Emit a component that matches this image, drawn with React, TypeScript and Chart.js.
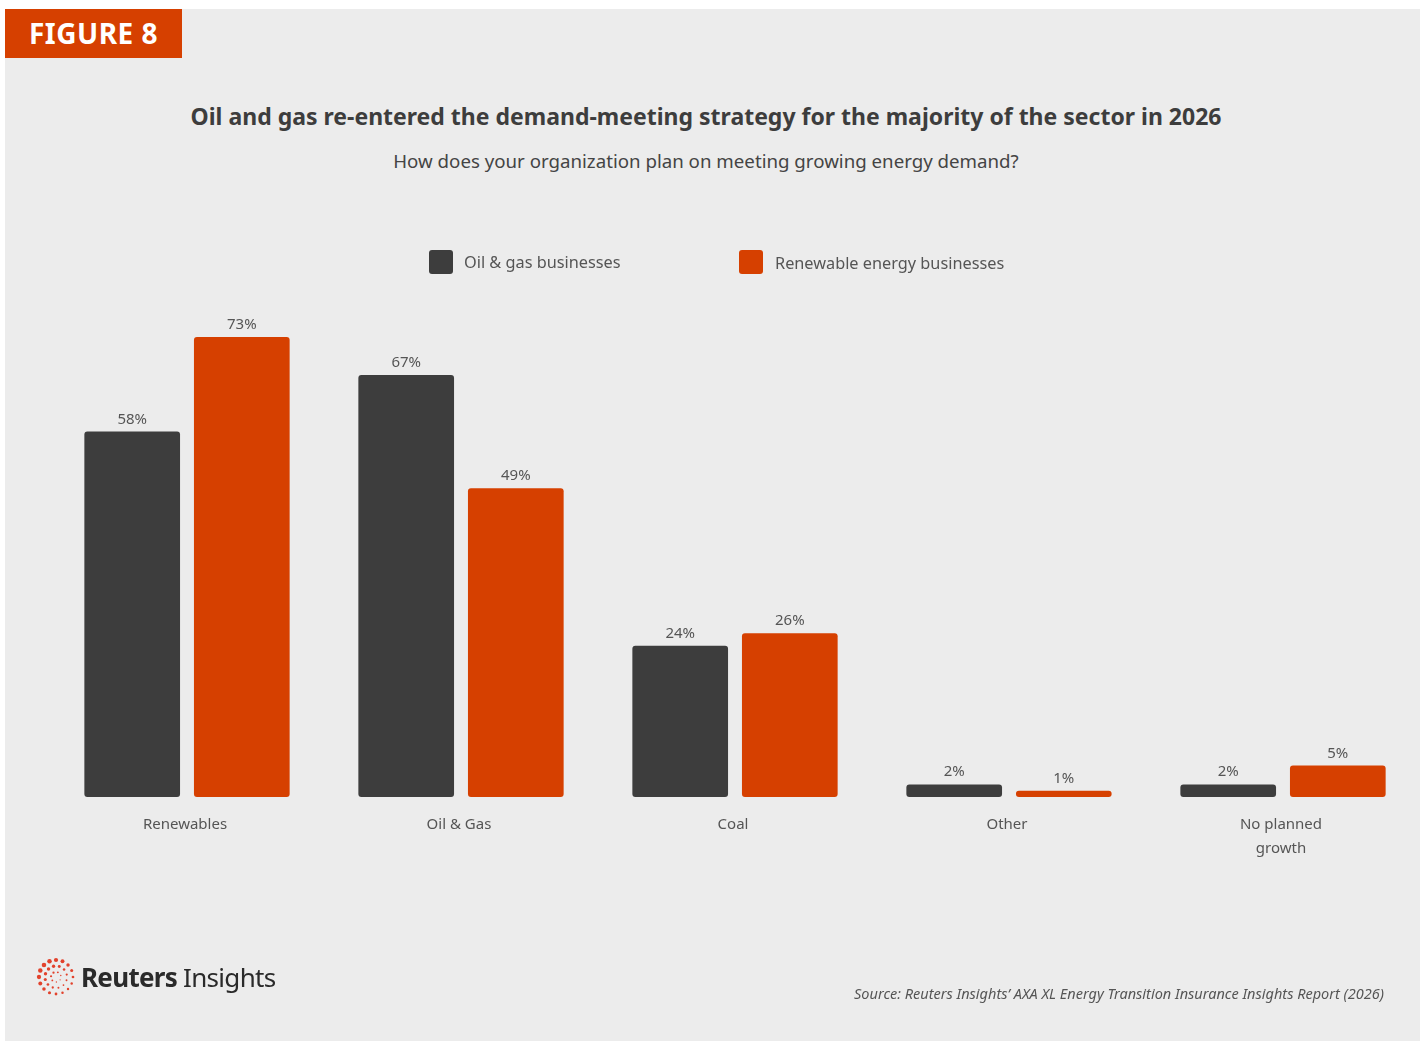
import React, { useEffect, useRef } from "react";
import { Chart, registerables } from "chart.js";

Chart.register(...registerables);

const categories: (string | string[])[] = ["Renewables", "Oil & Gas", "Coal", "Other", ["No planned", "growth"]];
const oilGasValues = [58, 67, 24, 2, 2];
const renewableValues = [73, 49, 26, 1, 5];
const seriesNames = ["Oil & gas businesses", "Renewable energy businesses"];

const DARK = "#3d3d3d";
const ORANGE = "#d64000";
const FONT = "'Noto Sans', 'Open Sans', sans-serif";

const valueLabelPlugin = {
  id: "valueLabels",
  afterDatasetsDraw(chart: any) {
    const ctx = chart.ctx;
    ctx.save();
    ctx.font = `15px ${FONT}`;
    ctx.fillStyle = "#555555";
    ctx.textAlign = "center";
    ctx.textBaseline = "alphabetic";
    chart.data.datasets.forEach((ds: any, di: number) => {
      const meta = chart.getDatasetMeta(di);
      meta.data.forEach((bar: any, i: number) => {
        ctx.fillText(`${ds.data[i]}%`, bar.x, bar.y - 8);
      });
    });
    ctx.restore();
  },
};

function ChartCanvas() {
  const ref = useRef<HTMLCanvasElement | null>(null);
  useEffect(() => {
    if (!ref.current) return;
    const chart = new Chart(ref.current, {
      type: "bar",
      data: {
        labels: categories,
        datasets: [
          {
            label: seriesNames[0],
            data: oilGasValues,
            backgroundColor: DARK,
            borderRadius: 3,
            borderSkipped: false,
            minBarLength: 6,
          },
          {
            label: seriesNames[1],
            data: renewableValues,
            backgroundColor: ORANGE,
            borderRadius: 3,
            borderSkipped: false,
            minBarLength: 6,
          },
        ],
      },
      options: {
        animation: false,
        responsive: false,
        maintainAspectRatio: false,
        layout: { padding: { left: 50, right: 0, top: 293, bottom: 0 } },
        datasets: { bar: { categoryPercentage: 0.8, barPercentage: 0.873 } },
        plugins: { legend: { display: false }, tooltip: { enabled: false } },
        scales: {
          x: {
            grid: { display: false, drawTicks: false },
            border: { display: false },
            ticks: {
              color: "#555555",
              font: { family: FONT, size: 15, lineHeight: 1.6 },
              padding: 16,
              labelOffset: -2,
              maxRotation: 0,
              autoSkip: false,
            },
            afterFit: (scale: any) => {
              scale.height = 246;
            },
          },
          y: { display: false, min: 0, max: 80 },
        },
      },
      plugins: [valueLabelPlugin],
    });
    return () => chart.destroy();
  }, []);
  return (
    <canvas
      ref={ref}
      width={1420}
      height={1043}
      style={{ position: "absolute", left: 0, top: 0, width: 1420, height: 1043 }}
    />
  );
}

function Logo() {
  const dots: { x: number; y: number; r: number }[] = [];
  const rings = [
    { R: 17, n: 16 },
    { R: 11, n: 12 },
    { R: 5, n: 7 },
  ];
  rings.forEach((ring, ri) => {
    for (let k = 0; k < ring.n; k++) {
      const a = (k / ring.n) * Math.PI * 2 + ri * 0.3;
      const r = (1.2 + 1.1 * (0.5 + 0.5 * Math.cos(a + 2.4))) * (1 - ri * 0.25);
      dots.push({ x: 20 + ring.R * Math.cos(a), y: 20 + ring.R * Math.sin(a), r });
    }
  });
  return (
    <svg width={40} height={40} style={{ position: "absolute", left: 36, top: 957 }}>
      {dots.map((d, i) => (
        <circle key={i} cx={d.x} cy={d.y} r={d.r} fill="#e2422c" />
      ))}
    </svg>
  );
}

export default function App() {
  useEffect(() => {
    document.body.style.margin = "0";
    document.body.style.background = "#ffffff";
  }, []);
  return (
    <div style={{ position: "relative", width: 1420, height: 1043, overflow: "hidden", fontFamily: FONT }}>
      <div style={{ position: "absolute", left: 5, top: 9, width: 1415, height: 1032, background: "#ececec" }} />
      <div
        style={{
          position: "absolute",
          left: 5,
          top: 9,
          width: 177,
          height: 49,
          background: ORANGE,
          color: "#ffffff",
          fontWeight: 700,
          fontSize: 28,
          lineHeight: "49px",
          textAlign: "center",
          letterSpacing: 0.5,
        }}
      >
        FIGURE 8
      </div>
      <div
        style={{
          position: "absolute",
          left: 0,
          width: 1412,
          top: 99,
          textAlign: "center",
          fontWeight: 700,
          fontSize: 23,
          color: "#3d3d3d",
          lineHeight: "34px",
        }}
      >
        Oil and gas re-entered the demand-meeting strategy for the majority of the sector in 2026
      </div>
      <div
        style={{
          position: "absolute",
          left: 0,
          width: 1412,
          top: 148,
          textAlign: "center",
          fontSize: 18.7,
          color: "#444444",
          lineHeight: "26px",
        }}
      >
        How does your organization plan on meeting growing energy demand?
      </div>
      <ChartCanvas />
      {/* legend */}
      <div style={{ position: "absolute", left: 429, top: 250, width: 24, height: 24, borderRadius: 3, background: DARK }} />
      <div style={{ position: "absolute", left: 464, top: 250, fontSize: 16.3, lineHeight: "24px", color: "#555555" }}>
        {seriesNames[0]}
      </div>
      <div style={{ position: "absolute", left: 739, top: 250, width: 24, height: 24, borderRadius: 3, background: ORANGE }} />
      <div style={{ position: "absolute", left: 775, top: 251, fontSize: 16.3, lineHeight: "24px", color: "#555555" }}>
        {seriesNames[1]}
      </div>
      <Logo />
      <div style={{ position: "absolute", left: 81, top: 961, fontSize: 26, lineHeight: "32px", color: "#2a2a2a", letterSpacing: -0.7 }}>
        <span style={{ fontWeight: 700 }}>Reuters</span>
        <span style={{ fontWeight: 400 }}> Insights</span>
      </div>
      <div
        style={{
          position: "absolute",
          right: 36,
          top: 982,
          fontSize: 14.5,
          fontStyle: "italic",
          color: "#555555",
          lineHeight: "22px",
        }}
      >
        Source: Reuters Insights’ AXA XL Energy Transition Insurance Insights Report (2026)
      </div>
    </div>
  );
}
